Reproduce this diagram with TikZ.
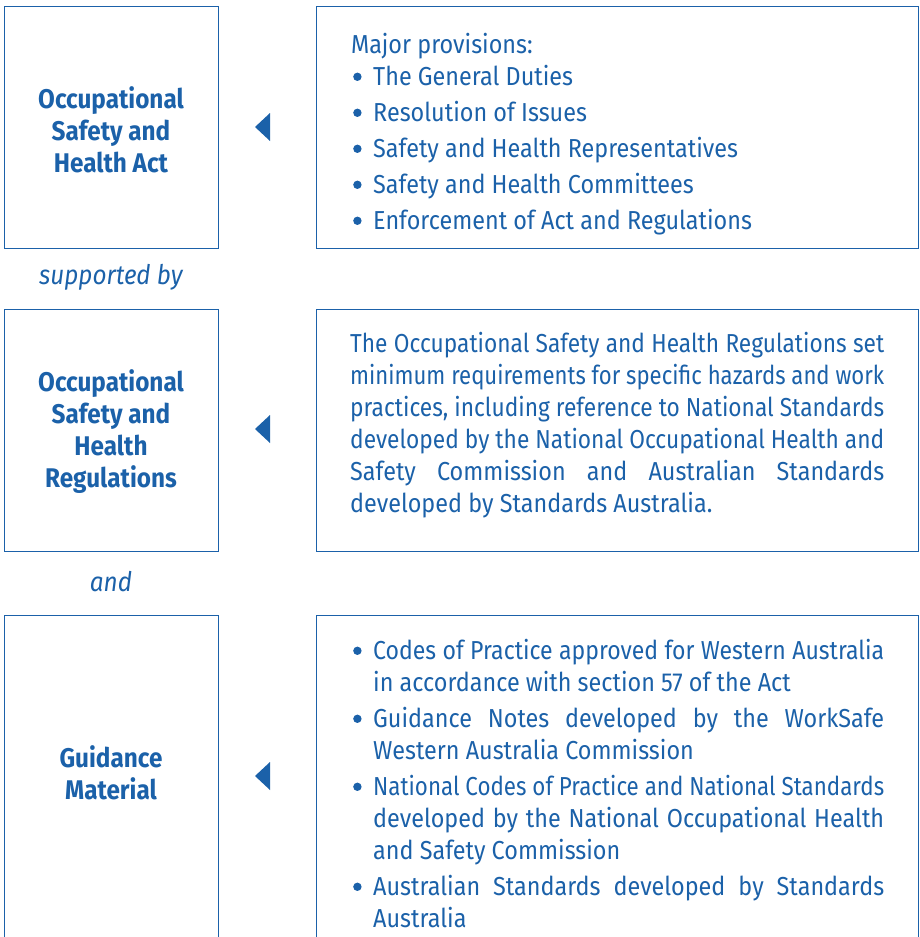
\documentclass[tikz,border=0pt]{standalone}
\usepackage{fontspec}
\usepackage{graphicx}
\setmainfont{Fira Sans}[FakeStretch=0.9]
\usetikzlibrary{positioning}

\definecolor{wsblue}{HTML}{1B61A9}
\newcommand{\bodyfont}{\fontsize{26}{32}\selectfont}
\newcommand{\tight}{\spaceskip=0.25em plus 0.6em minus 0.12em\relax}
\newcommand{\bul}{\makebox[22pt][l]{\hspace{2pt}\raisebox{4.5pt}{\tikz\fill[wsblue] (0,0) circle (4.2pt);}}}
\newcommand{\gap}{\hspace*{22pt}}
% spread a line to full width, squeeze it if it is too long
\newlength{\natw}
\newcommand{\fitline}[2]{\settowidth{\natw}{#2}%
  \ifdim\natw>#1\relax\resizebox{#1}{\height}{#2}\else\makebox[#1][s]{#2}\fi}
\newcommand{\regline}[1]{\fitline{534pt}{#1}}
\newcommand{\itemline}[1]{\fitline{511pt}{#1}}

\begin{document}
\begin{tikzpicture}[x=1pt,y=-1pt,
  every node/.style={text=wsblue, inner sep=0pt, font=\bodyfont},
  frame/.style={draw=wsblue, line width=1.2pt, anchor=north west, minimum height=242pt},
  leftframe/.style={frame, minimum width=214pt},
  rightframe/.style={frame, minimum width=602pt},
  title/.style={font=\fontsize{27}{32}\selectfont\bfseries, align=center},
  joiner/.style={font=\fontsize{27}{32}\selectfont\itshape},
  body/.style={anchor=north west, align=left},
  marker/.style={fill=wsblue}]

\useasboundingbox (0,0) rectangle (919,937);
\clip (0,0) rectangle (919,937);

\node[leftframe] (act) at (4,6) {};
\node[rightframe] (actnote) at (316,6) {};
\node[leftframe] (regs) at (4,309) {};
\node[rightframe] (regsnote) at (316,309) {};
\node[leftframe, minimum height=340pt] (guide) at (4,615) {};
\node[rightframe, minimum height=340pt] (guidenote) at (316,615) {};

\node[title] (acttitle) at (111,130) {Occupational\\Safety and\\Health Act};
\node[title] (regstitle) at (111,432) {Occupational\\Safety and\\Health\\Regulations};
\node[title] (guidetitle) at (111,773) {Guidance\\Material};

\node[joiner] (supp) at (111,277) {supported by};
\node[joiner] (andalso) at (111,582) {and};

\foreach \y in {127,429,776}
  \fill[marker] (270,\y-14) -- (255,\y) -- (270,\y+14) -- cycle;

\node[body] (acttext) at (351,33) {Major provisions:\\
  \bul The General Duties\\[4pt]
  \bul Resolution of Issues\\[4pt]
  \bul Safety and Health Representatives\\[4pt]
  \bul Safety and Health Committees\\[4pt]
  \bul Enforcement of Act and Regulations};

\node[body] (regstext) at (350,332) {\tight
  \regline{The Occupational Safety and Health Regulations set}\\
  \regline{minimum requirements for specific hazards and work}\\
  \regline{practices, including reference to National Standards}\\
  \regline{developed by the National Occupational Health and}\\
  \regline{Safety Commission and Australian Standards}\\
  developed by Standards Australia.};

\node[body] (guidetext) at (351,639) {\tight
  \bul\itemline{Codes of Practice approved for Western Australia}\\
  \gap in accordance with section 57 of the Act\\[4pt]
  \bul\itemline{Guidance Notes developed by the WorkSafe}\\
  \gap Western Australia Commission\\[4pt]
  \bul\itemline{National Codes of Practice and National Standards}\\
  \gap\itemline{developed by the National Occupational Health}\\
  \gap and Safety Commission\\[4pt]
  \bul\itemline{Australian Standards developed by Standards}\\
  \gap Australia};

\end{tikzpicture}
\end{document}
